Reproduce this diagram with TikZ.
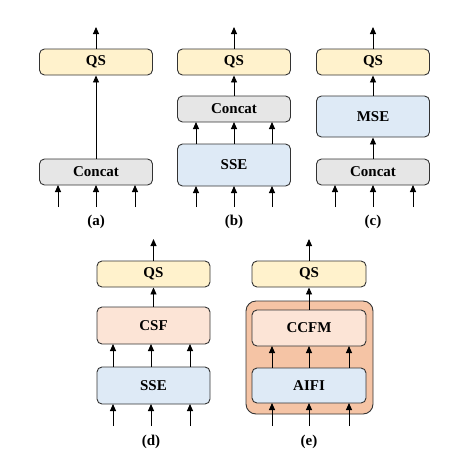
\documentclass[tikz,border=0pt]{standalone}
\usepackage{fontspec}
\setmainfont{Liberation Serif}
\usetikzlibrary{arrows.meta}
\definecolor{qsfill}{HTML}{FFF2CC}
\definecolor{grayfill}{HTML}{E6E6E6}
\definecolor{bluefill}{HTML}{DEEAF6}
\definecolor{pinkfill}{HTML}{FCE4D6}
\definecolor{outerfill}{HTML}{F5C4A5}
\definecolor{edge}{HTML}{333333}
\tikzset{
  blk/.style={draw=edge, line width=0.9pt, rounded corners=5pt, font=\fontsize{15}{18}\selectfont\bfseries, text=black, inner sep=0pt},
  qs/.style={blk, fill=qsfill},
  gr/.style={blk, fill=grayfill},
  bl/.style={blk, fill=bluefill},
  pk/.style={blk, fill=pinkfill},
  lbl/.style={font=\fontsize{15}{18}\selectfont\bfseries, inner sep=0pt},
  arr/.style={-{Triangle[length=7pt,width=6pt]}, line width=0.9pt, black}
}
\begin{document}
\begin{tikzpicture}[x=1pt,y=-1pt]
\useasboundingbox (0,0) rectangle (462,458);
% ---------- (a)
\node[qs, minimum width=113pt, minimum height=26pt] (aqs) at (96,62) {QS};
\node[gr, minimum width=113pt, minimum height=26pt] (acc) at (96,172) {Concat};
\coordinate (aout) at (96,27);
\draw[arr] (aqs.north) -- (aout);
\draw[arr] (acc.north) -- (aqs.south);
\foreach \x [count=\i] in {58,96,135} {
  \coordinate (ain\i) at (\x,207);
  \draw[arr] (ain\i) -- (\x,185);
}
\node[lbl] (la) at (96,222) {(a)};
% ---------- (b)
\node[qs, minimum width=113pt, minimum height=26pt] (bqs) at (234,62) {QS};
\node[gr, minimum width=113pt, minimum height=26pt] (bcc) at (234,109) {Concat};
\node[bl, minimum width=113pt, minimum height=42pt] (bsse) at (234,165) {SSE};
\coordinate (bout) at (234,27);
\draw[arr] (bqs.north) -- (bout);
\draw[arr] (bcc.north) -- (bqs.south);
\foreach \x [count=\i] in {196,234,272} {
  \draw[arr] (\x,144) -- (\x,122);
  \coordinate (bin\i) at (\x,207);
  \draw[arr] (bin\i) -- (\x,186);
}
\node[lbl] (lb) at (234,222) {(b)};
% ---------- (c)
\node[qs, minimum width=113pt, minimum height=26pt] (cqs) at (373,62) {QS};
\node[bl, minimum width=113pt, minimum height=41pt] (cmse) at (373,116.5) {MSE};
\node[gr, minimum width=113pt, minimum height=26pt] (ccc) at (373,172) {Concat};
\coordinate (cout) at (373,27);
\draw[arr] (cqs.north) -- (cout);
\draw[arr] (cmse.north) -- (cqs.south);
\draw[arr] (ccc.north) -- (cmse.south);
\foreach \x [count=\i] in {335,373,413} {
  \coordinate (cin\i) at (\x,207);
  \draw[arr] (cin\i) -- (\x,185);
}
\node[lbl] (lc) at (373,222) {(c)};
% ---------- (d)
\node[qs, minimum width=113pt, minimum height=26pt] (dqs) at (153.5,274) {QS};
\node[pk, minimum width=113pt, minimum height=37pt] (dcsf) at (153.5,325.5) {CSF};
\node[bl, minimum width=113pt, minimum height=37pt] (dsse) at (153.5,385.5) {SSE};
\coordinate (dout) at (153.5,239);
\draw[arr] (dqs.north) -- (dout);
\draw[arr] (dcsf.north) -- (dqs.south);
\foreach \x [count=\i] in {113,151,190} {
  \draw[arr] (\x,367) -- (\x,344);
  \coordinate (din\i) at (\x,426);
  \draw[arr] (din\i) -- (\x,404);
}
\node[lbl] (ld) at (151,442) {(d)};
% ---------- (e)
\node[draw=edge, line width=0.9pt, rounded corners=10pt, fill=outerfill, minimum width=127pt, minimum height=113pt, inner sep=0pt] (eout) at (309.5,357.5) {};
\node[qs, minimum width=114pt, minimum height=26pt] (eqs) at (309,274) {QS};
\node[pk, minimum width=114pt, minimum height=36pt] (eccfm) at (309,328) {CCFM};
\node[bl, minimum width=114pt, minimum height=35pt] (eaifi) at (309,385.5) {AIFI};
\coordinate (eo) at (309,239);
\draw[arr] (eqs.north) -- (eo);
\draw[arr] (eccfm.north) -- (eqs.south);
\foreach \x [count=\i] in {272,309,349} {
  \draw[arr] (\x,368) -- (\x,346);
  \coordinate (ein\i) at (\x,426);
  \draw[arr] (ein\i) -- (\x,403);
}
\node[lbl] (le) at (309,442) {(e)};
\end{tikzpicture}
\end{document}
